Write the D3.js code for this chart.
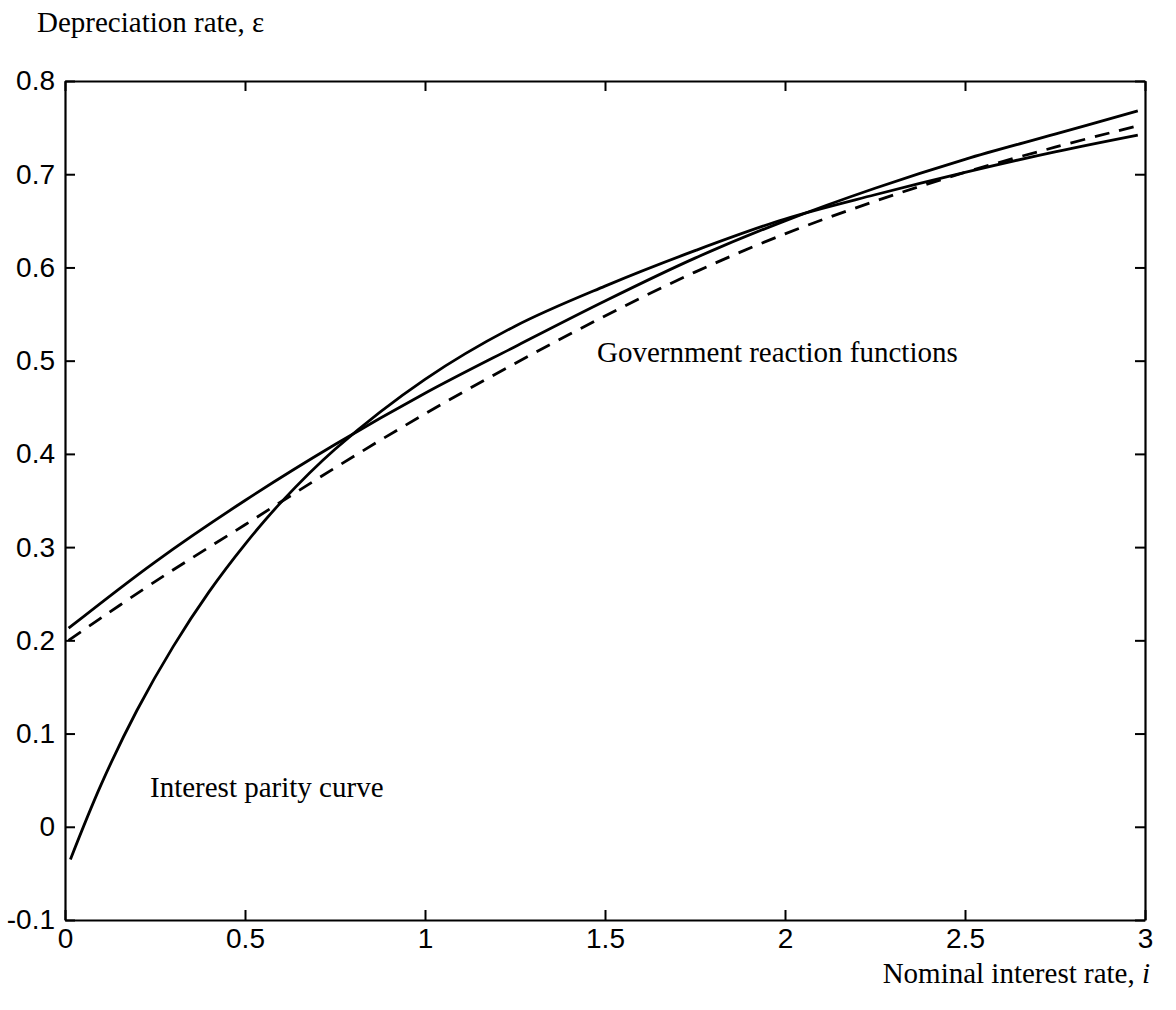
<!DOCTYPE html>
<html>
<head>
<meta charset="utf-8">
<script src="https://cdn.jsdelivr.net/npm/d3@7"></script>
<style>
    body { margin: 0; background: #fff; }
    .tick-label { font-family: "Liberation Sans", Arial, sans-serif; font-size: 28px; fill: #000; }
    .note { font-family: "Liberation Serif", "Times New Roman", serif; font-size: 29px; fill: #000; }
</style>
</head>
<body>
<div id="chart"></div>
<script>
// values
var xTicks = [0, 0.5, 1, 1.5, 2, 2.5, 3];
var yTicks = [-0.1, 0, 0.1, 0.2, 0.3, 0.4, 0.5, 0.6, 0.7, 0.8];

// government reaction functions (solid and dashed)
var govRate = [0.01, 0.25, 0.5, 0.75, 1, 1.25, 1.5, 1.75, 2, 2.25, 2.5, 2.75, 2.98];
var govSolid = [0.213, 0.284, 0.35, 0.41, 0.465, 0.515, 0.564, 0.61, 0.65, 0.685, 0.716, 0.743, 0.768];
var govDashed = [0.2, 0.263, 0.324, 0.385, 0.443, 0.497, 0.548, 0.595, 0.636, 0.671, 0.702, 0.729, 0.752];

// interest parity curve
var parityRate = [0.015, 0.1, 0.2, 0.3, 0.4, 0.5, 0.6, 0.75, 1.0, 1.25, 1.5, 1.75, 2.0, 2.25, 2.5, 2.75, 2.98];
var parityDep = [-0.035, 0.045, 0.125, 0.193, 0.252, 0.303, 0.348, 0.405, 0.48, 0.537, 0.58, 0.618, 0.652, 0.678, 0.702, 0.724, 0.742];

var args = {
    width: 1176,
    height: 1010,
    left: 65,
    right: 1145,
    top: 81,
    bottom: 920,
    tickLen: 10
};

function toPoints(x, y) {
    let pts = [];
    for (let i = 0; i < Math.min(x.length, y.length); ++i)
        pts.push([x[i], y[i]]);
    return pts;
}

let svg = d3.select("#chart").append("svg")
    .attr("width", args.width)
    .attr("height", args.height);

let xScale = d3.scaleLinear().domain([0, 3]).range([args.left, args.right]);
let yScale = d3.scaleLinear().domain([-0.1, 0.8]).range([args.bottom, args.top]);

// axes: inward ticks on all four sides, labels only bottom and left
let fmt = function(d) { return String(d); };
let axes = [
    { axis: d3.axisBottom(xScale).tickValues(xTicks).tickFormat(fmt).tickPadding(8), at: "translate(0," + args.bottom + ")" },
    { axis: d3.axisTop(xScale).tickValues(xTicks).tickFormat(""), at: "translate(0," + args.top + ")" },
    { axis: d3.axisLeft(yScale).tickValues(yTicks).tickFormat(fmt).tickPadding(10), at: "translate(" + args.left + ",0)" },
    { axis: d3.axisRight(yScale).tickValues(yTicks).tickFormat(""), at: "translate(" + args.right + ",0)" }
];
axes.forEach(function(a) {
    let g = svg.append("g")
        .attr("transform", a.at)
        .call(a.axis.tickSizeInner(-args.tickLen).tickSizeOuter(0));
    g.attr("font-size", null).attr("font-family", null);
    g.select(".domain").attr("stroke", "#000").attr("stroke-width", 2.2);
    g.selectAll(".tick line").attr("stroke", "#000").attr("stroke-width", 2);
    g.selectAll(".tick text").attr("class", "tick-label");
});

// line marks
let line = d3.line()
    .x(function(d) { return xScale(d[0]); })
    .y(function(d) { return yScale(d[1]); })
    .curve(d3.curveCatmullRom.alpha(0.5));

let series = [
    { pts: toPoints(govRate, govSolid), dash: null },
    { pts: toPoints(govRate, govDashed), dash: "15,10" },
    { pts: toPoints(parityRate, parityDep), dash: null }
];
series.forEach(function(s) {
    svg.append("path")
        .datum(s.pts)
        .attr("fill", "none")
        .attr("stroke", "#000")
        .attr("stroke-width", 2.8)
        .attr("stroke-dasharray", s.dash)
        .attr("d", line);
});

// text annotations
svg.append("text").attr("class", "note")
    .attr("x", 37).attr("y", 32)
    .text("Depreciation rate, \u03B5");

let xl = svg.append("text").attr("class", "note")
    .attr("x", 1150).attr("y", 983)
    .attr("text-anchor", "end");
xl.append("tspan").text("Nominal interest rate, ");
xl.append("tspan").attr("font-style", "italic").text("i");

svg.append("text").attr("class", "note")
    .attr("x", 597).attr("y", 362)
    .text("Government reaction functions");

svg.append("text").attr("class", "note")
    .attr("x", 150).attr("y", 797)
    .text("Interest parity curve");
</script>
</body>
</html>
